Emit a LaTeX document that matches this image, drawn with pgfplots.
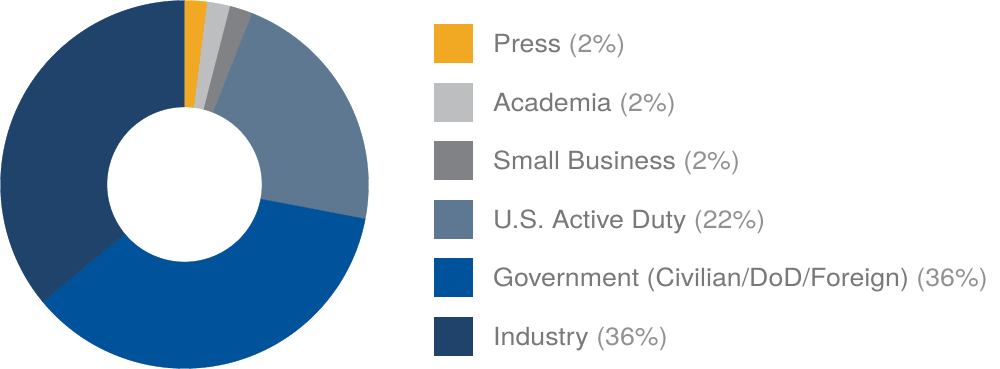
\documentclass[border=0pt]{standalone}
\usepackage{fontspec}
\setmainfont{TeX Gyre Heros}[FakeStretch=1.07]
\usepackage{pgfplots}
\pgfplotsset{compat=1.18}
\usepgfplotslibrary{fillbetween}
\definecolor{pressc}{RGB}{241,169,36}
\definecolor{acadc}{RGB}{189,190,192}
\definecolor{smallc}{RGB}{128,130,133}
\definecolor{activec}{RGB}{94,120,145}
\definecolor{govc}{RGB}{0,82,155}
\definecolor{indc}{RGB}{31,67,107}
\definecolor{txtc}{RGB}{120,120,120}
\definecolor{parc}{RGB}{145,145,145}
\def\Ro{184}
\def\Ri{77.5}
% slice: start percent, end percent, colour
\newcommand{\slice}[3]{%
  \addplot[draw=none, forget plot, name path=o#3, domain=#1:#2, samples=90]
    ({\Ro*cos(90-3.6*x)},{\Ro*sin(90-3.6*x)});
  \addplot[draw=none, forget plot, name path=i#3, domain=#1:#2, samples=90]
    ({\Ri*cos(90-3.6*x)},{\Ri*sin(90-3.6*x)});
  \addplot[fill=#3, draw=#3, line width=0.3pt, forget plot] fill between[of=o#3 and i#3];
}
\begin{document}
\begin{tikzpicture}
\begin{axis}[
  scale only axis, width=1000pt, height=369pt,
  xmin=-184.5, xmax=815.5, ymin=-184.5, ymax=184.5,
  axis line style={draw=none}, ticks=none, clip=false,
  legend cell align=left,
  legend image code/.code={\path[#1,draw=none] (0pt,-19.5pt) rectangle (39pt,19.5pt); \path (59pt,0pt);},
  legend style={at={(axis cs:249.5,160)}, anchor=north west, draw=none, fill=none,
    inner sep=0pt, outer sep=0pt, row sep=19.5pt, column sep=0pt,
    font=\fontsize{25}{30}\selectfont, text=txtc,
    nodes={inner sep=0pt, text height=18pt, text depth=0pt}},
]
\addplot[draw=none, forget plot] coordinates {(-184.5,-184.5) (815.5,184.5)};
% values (percent): Press 2, Academia 2, Small Business 2, U.S. Active Duty 22, Government 36, Industry 36
\slice{0}{2}{pressc}
\slice{2}{4}{acadc}
\slice{4}{6}{smallc}
\slice{6}{28}{activec}
\slice{28}{64}{govc}
\slice{64}{100}{indc}
\addlegendimage{fill=pressc}
\addlegendentry{Press {\color{parc}(2\%)}}
\addlegendimage{fill=acadc}
\addlegendentry{Academia {\color{parc}(2\%)}}
\addlegendimage{fill=smallc}
\addlegendentry{Small Business {\color{parc}(2\%)}}
\addlegendimage{fill=activec}
\addlegendentry{U.S. Active Duty {\color{parc}(22\%)}}
\addlegendimage{fill=govc}
\addlegendentry{Government (Civilian/DoD/Foreign) {\color{parc}(36\%)}}
\addlegendimage{fill=indc}
\addlegendentry{Industry {\color{parc}(36\%)}}
\end{axis}
\end{tikzpicture}
\end{document}
